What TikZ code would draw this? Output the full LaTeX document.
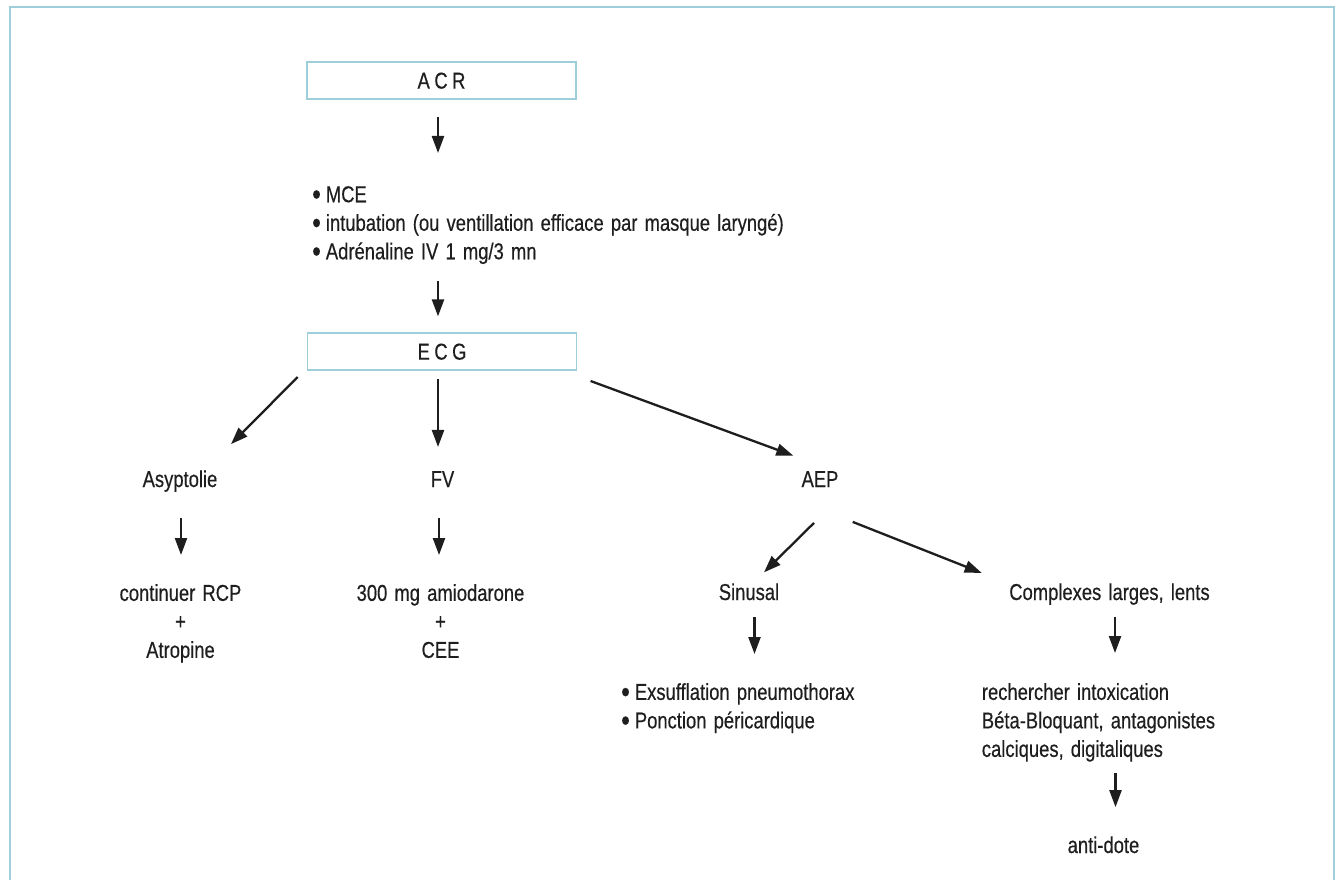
\documentclass[tikz,border=0pt]{standalone}
\usepackage{fontspec}
\setmainfont[FakeStretch=0.8,FakeBold=0.4,WordSpace=1.4]{Liberation Sans}
\usetikzlibrary{arrows.meta}
\definecolor{frameblue}{RGB}{158,206,218}
\definecolor{ink}{RGB}{30,30,30}
\newcommand{\itemdot}{\raisebox{-2.5pt}{\scalebox{1.35}{\textbullet}}\hspace{5pt}}
\newcommand{\gap}{\hspace{4.5pt}}

\begin{document}
\begin{tikzpicture}[x=1pt,y=-1pt,
  every node/.style={font=\fontsize{23}{28.5}\selectfont, text=ink, inner sep=0pt},
  hdr/.style={draw=frameblue, line width=1.6pt, minimum width=269pt, minimum height=37pt},
  lbl/.style={anchor=base},
  blk/.style={align=left, anchor=north west},
  cblk/.style={align=center, anchor=north},
  arr/.style={draw=ink, line width=2.3pt, -{Triangle[length=17pt,width=12pt]}}]

% page and outer frame (open at the bottom)
\useasboundingbox (0,0) rectangle (1338,880);
\fill[white] (0,0) rectangle (1338,880);
\draw[frameblue, line width=2pt] (10,890) -- (10,7) -- (1334,7) -- (1334,890);

% nodes
\node[hdr] (acr) at (441.5,80.7) {A\gap C\gap R};
\node[blk] (steps) at (312,186)
  {\itemdot MCE\\
   \itemdot intubation (ou ventillation efficace par masque laryngé)\\
   \itemdot Adrénaline IV 1 mg/3 mn};
\node[hdr] (ecg) at (442,351.7) {E\gap C\gap G};

\node[lbl] (asy) at (180,487) {Asyptolie};
\node[lbl] (fv)  at (442.5,487) {FV};
\node[lbl] (aep) at (820,487) {AEP};

\node[cblk] (rcp)  at (180.5,584) {continuer RCP\\+\\Atropine};
\node[cblk] (amio) at (440.5,584) {300 mg amiodarone\\+\\CEE};

\node[lbl] (sin) at (749,600) {Sinusal};
\node[lbl] (cpx) at (1109.5,600) {Complexes larges, lents};

\node[blk] (exs) at (621,683)
  {\itemdot Exsufflation pneumothorax\\
   \itemdot Ponction péricardique};
\node[blk] (rech) at (981.7,683)
  {rechercher intoxication\\Béta-Bloquant, antagonistes\\calciques, digitaliques};
\node[lbl] (anti) at (1103.5,853) {anti-dote};

% connectors
\draw[arr, shorten <=16.7pt, shorten >=33pt]
  ([xshift=-3.5pt]acr.south) -- ([xshift=-3.5pt]acr.south |- steps.north);
\draw[arr, shorten <=17pt, shorten >=16pt]
  ([xshift=-4pt]ecg.north |- steps.south) -- ([xshift=-4pt]ecg.north);

\draw[arr] ([shift={(-9,6)}]ecg.south west) -- ([shift={(51,-26)}]asy.north);
\draw[arr, shorten <=8pt, shorten >=24pt]
  ([xshift=-4pt]ecg.south) -- ([xshift=-4pt]ecg.south |- fv.north);
\draw[arr] ([shift={(13.3,10)}]ecg.south east) -- ([shift={(-26.7,-15.3)}]aep.north);

\draw[arr, shorten <=26pt, shorten >=29pt]
  ([xshift=1pt]asy.south) -- ([xshift=1pt]asy.south |- rcp.north);
\draw[arr, shorten <=31pt, shorten >=29pt]
  ([xshift=-3.5pt]fv.south) -- ([xshift=-3.5pt]fv.south |- amio.north);

\draw[arr] ([shift={(-6,35.7)}]aep.south) -- ([shift={(15,-10.8)}]sin.north);
\draw[arr] ([shift={(32.7,34.7)}]aep.south) -- ([shift={(-127.8,-10.2)}]cpx.north);

\draw[arr, shorten <=16.7pt, shorten >=29pt]
  ([xshift=5.5pt]sin.south) -- ([xshift=5.5pt]sin.south |- exs.north);
\draw[arr, shorten <=12pt, shorten >=30pt]
  ([xshift=5.5pt]cpx.south) -- ([xshift=5.5pt]cpx.south |- rech.north);
\draw[arr, shorten <=11pt, shorten >=29pt]
  (rech.south -| anti.north) ++(12pt,0) coordinate (ra) (ra) -- (ra |- anti.north);
\end{tikzpicture}
\end{document}
